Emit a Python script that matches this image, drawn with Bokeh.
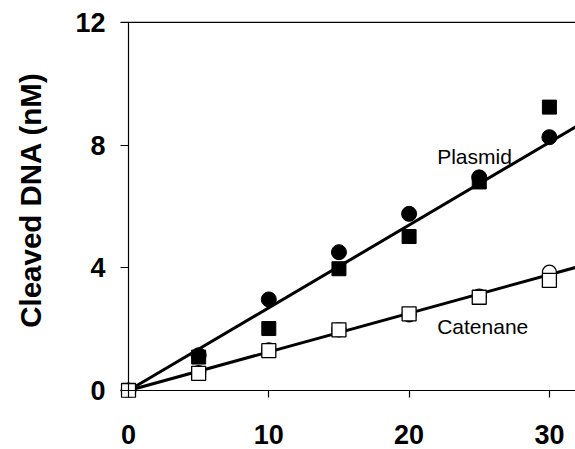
from bokeh.plotting import figure
from bokeh.models import Range1d, Span, Label, FixedTicker, LinearAxis
from bokeh.embed import file_html
from bokeh.resources import INLINE

# ---- data ----
time_min = [0, 5, 10, 15, 20, 25, 30]
plasmid_circle = [0, 1.15, 2.97, 4.51, 5.76, 6.95, 8.26]
plasmid_square = [0, 1.09, 2.02, 3.97, 5.02, 6.80, 9.24]
catenane_circle = [0, 0.58, 1.32, 1.98, 2.47, 3.08, 3.86]
catenane_square = [0, 0.56, 1.30, 1.98, 2.50, 3.04, 3.59]
fit_x = [0, 32]
plasmid_fit = [0, 8.63]
catenane_fit = [0, 4.03]
x_ticks = [0, 10, 20, 30]
y_ticks = [0, 4, 8, 12]

FONT = "Liberation Sans"

p = figure(width=575, height=449, output_backend="svg", toolbar_location=None,
           x_range=Range1d(-0.57, 31.86), y_range=Range1d(-0.228, 12.651),
           min_border_left=120, min_border_right=0, min_border_top=2,
           min_border_bottom=52)
p.outline_line_color = None
p.grid.grid_line_color = None
p.background_fill_color = "white"

# axis lines and ticks, crossing at the origin
for ax in (p.xaxis[0], p.yaxis[0]):
    ax.fixed_location = 0
    ax.axis_line_color = "black"
    ax.axis_line_width = 1.2
    ax.major_tick_line_color = "black"
    ax.major_tick_line_width = 1.2
    ax.major_tick_out = 14
    ax.major_tick_in = 0
    ax.minor_tick_line_color = None
    ax.major_label_text_color = None
p.xaxis.bounds = (0, 31.86)
p.yaxis.bounds = (0, 12)
p.xaxis.ticker = FixedTicker(ticks=x_ticks)
p.yaxis.ticker = FixedTicker(ticks=y_ticks)

# tick labels and axis title
def label_axis(ticks, size, standoff):
    a = LinearAxis(ticker=FixedTicker(ticks=ticks))
    a.axis_line_color = None
    a.major_tick_line_color = None
    a.minor_tick_line_color = None
    a.major_tick_out = 0
    a.major_tick_in = 0
    a.major_label_text_font = FONT
    a.major_label_text_font_style = "bold"
    a.major_label_text_color = "black"
    a.major_label_text_font_size = size
    a.major_label_standoff = standoff
    return a

xl = label_axis(x_ticks, "27px", 27)
yl = label_axis(y_ticks, "27px", 15)
yl.axis_label = "Cleaved DNA (nM)"
yl.axis_label_text_font = FONT
yl.axis_label_text_font_style = "bold"
yl.axis_label_text_font_size = "29.5px"
yl.axis_label_text_color = "black"
yl.axis_label_standoff = 25
p.add_layout(xl, "below")
p.add_layout(yl, "left")

p.add_layout(Span(location=12, dimension="width", line_color="black", line_width=1.2))

p.line(fit_x, plasmid_fit, line_color="black", line_width=3)
p.line(fit_x, catenane_fit, line_color="black", line_width=3)

p.scatter(time_min, plasmid_circle, marker="circle", size=15, fill_color="black", line_color="black")
p.scatter(time_min, plasmid_square, marker="square", size=14, fill_color="black", line_color="black")
p.scatter(time_min, catenane_circle, marker="circle", size=14, fill_color="white", line_color="black", line_width=1.3)
p.scatter(time_min, catenane_square, marker="square", size=14, fill_color="white", line_color="black", line_width=1.3)

p.add_layout(Label(x=22.0, y=7.62, text="Plasmid", text_font=FONT, text_font_size="21px",
                   text_color="black", text_baseline="alphabetic"))
p.add_layout(Label(x=22.0, y=2.10, text="Catenane", text_font=FONT, text_font_size="21px",
                   text_color="black", text_baseline="alphabetic"))

open("out.html", "w").write(file_html(p, INLINE))
